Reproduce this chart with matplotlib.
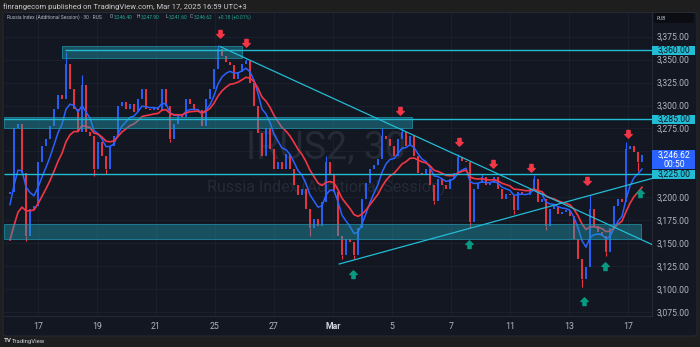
import numpy as np
import matplotlib
matplotlib.use("Agg")
import matplotlib.pyplot as plt
from matplotlib.patches import Rectangle, FancyBboxPatch
from matplotlib.path import Path
import matplotlib.transforms as mtransforms

# ---------------- data ----------------
first_open = 3204.0
closes = [
    3206, 3275, 3280, 3227, 3158, 3187, 3191, 3238, 3256, 3264,
    3278, 3296, 3311, 3307, 3345, 3318, 3296, 3271, 3322, 3271,
    3267, 3231, 3260, 3245, 3231, 3256, 3267, 3300, 3304, 3296,
    3302, 3293, 3307, 3318, 3296, 3295, 3298, 3295, 3318, 3300,
    3264, 3280, 3290, 3288, 3307, 3302, 3296, 3295, 3278, 3307,
    3318, 3340, 3362, 3354, 3347, 3344, 3329, 3336, 3345, 3349,
    3325, 3300, 3270, 3245, 3275, 3253, 3231, 3238, 3231, 3247,
    3231, 3213, 3202, 3209, 3187, 3166, 3176, 3169, 3195, 3238,
    3224, 3206, 3158, 3137, 3155, 3151, 3137, 3166, 3198, 3216,
    3231, 3235, 3242, 3267, 3264, 3256, 3245, 3264, 3271, 3256,
    3267, 3245, 3227, 3224, 3231, 3213, 3196, 3220, 3213, 3209,
    3220, 3227, 3244, 3240, 3238, 3173, 3209, 3216, 3222, 3213,
    3216, 3222, 3209, 3198, 3204, 3202, 3186, 3206, 3204, 3202,
    3209, 3220, 3195, 3198, 3169, 3187, 3191, 3182, 3184, 3186,
    3180, 3155, 3133, 3111, 3124, 3187, 3169, 3162, 3158, 3140,
    3166, 3191, 3198, 3195, 3253, 3256, 3249, 3238, 3246.62,
]
# wick extremes (bar number, price)
wick_bars = [4, 14, 18, 21, 24, 40, 52, 59, 75, 79, 83, 86, 93, 98, 106,
             112, 115, 118, 126, 131, 134, 143, 145, 149, 154, 157]
wick_tips = [3152, 3358, 3333, 3223, 3225, 3260, 3366, 3351, 3158, 3245,
             3133, 3133, 3276, 3276, 3193, 3247, 3166, 3225, 3182, 3224,
             3164, 3102, 3202, 3136, 3260, 3229]
ema_fast_start = 3187.4
ema_slow_start = 3145.6

tick_days = [0, 2, 4, 6, 8, 10, 12, 14, 16, 18, 20]
tick_labels = ["17", "19", "21", "25", "27", "Mar", "5", "7", "11", "13", "17"]
price_ticks = list(range(3075, 3376, 25))
hidden_price_labels = [3225, 3250]

level_lines = [3360, 3285, 3225]
band_3360 = (3352.3, 3365.0)
band_3285 = (3275.9, 3287.2)
band_3160 = (3154.5, 3171.0)
trend_down = ([6.17, 20.81], [3364.3, 3148.6])
trend_up = ([10.21, 20.81], [3127.3, 3220.5])

sell_days = [6.17, 7.05, 12.27, 14.27, 15.42, 16.71, 18.61, 20.0]
sell_prices = [3378, 3368, 3294, 3260, 3236, 3232, 3218, 3269]
buy_days = [10.68, 14.61, 18.51, 19.22, 20.41]
buy_prices = [3116, 3149, 3087, 3125, 3205]

last_price = 3246.62

# ---------------- style ----------------
BG_OUT = "#1e1e1e"
BG = "#131722"
GRID = "#1c2130"
TXT = "#b2b5be"
CYAN = "#22bcd4"
BLUE = "#2962ff"
RED = "#f23645"
GREEN = "#089981"
FONT = ["Roboto", "DejaVu Sans"]
plt.rcParams["font.family"] = FONT

W, H = 700, 347
fig = plt.figure(figsize=(W / 100, H / 100), dpi=100)
fig.patch.set_facecolor(BG_OUT)
panel = FancyBboxPatch((3 / W, (H - 336) / H), 694 / W, 323.5 / H,
                       boxstyle="round,pad=0,rounding_size=0.006",
                       transform=fig.transFigure, facecolor=BG,
                       edgecolor="#2a2e39", lw=0.6, zorder=-5)
fig.patches.append(panel)

ax = fig.add_axes([4 / W, (H - 316) / H, 648 / W, 303 / H])
ax.set_facecolor(BG)
x_left, x_right = -1.1525, 20.814
ax.set_xlim(x_left, x_right)
ax.set_ylim(3070.65, 3400.8)

# bar positions in trading-day units
first_bar_day = -0.949
bar_step = 4 / 29.5
n = len(closes)
bx = first_bar_day + bar_step * np.arange(n)
c = np.array(closes, dtype=float)
o = np.concatenate([[first_open], c[:-1]])
lo = np.minimum(o, c)
hi = np.maximum(o, c)
hi = np.where(hi - lo < 1.2, lo + 1.2, hi)
cols = [BLUE if cc >= oo else RED for oo, cc in zip(o, c)]

# watermark
ax.text(9.76, 3242.8, "IRUS2, 30", ha="center", va="baseline", fontsize=27,
        color="#252a37", zorder=0.8)
ax.text(9.76, 3206.0, "Russia Index (Additional Session)", ha="center",
        va="baseline", fontsize=11.5, color="#252a37", zorder=0.8)

# candles
ax.vlines(bx, lo, hi, colors=cols, lw=1.35, zorder=2, capstyle="butt")
for b, t in zip(wick_bars, wick_tips):
    base = hi[b] if t > hi[b] else lo[b]
    ax.vlines(bx[b], min(base, t), max(base, t), colors=cols[b], lw=0.8, zorder=2)

# moving averages
def ema(values, start, alpha):
    out = []
    s = start
    for v in values:
        s = s + alpha * (v - s)
        out.append(s)
    return np.array(out)

ax.plot(bx, ema(c, ema_fast_start, 0.25), color=BLUE, lw=1.1, zorder=3)
ax.plot(bx, ema(c, ema_slow_start, 0.13), color=RED, lw=1.2, zorder=3)

# bands and levels
band_kw = dict(facecolor=(0.13, 0.63, 0.72, 0.42), edgecolor=(0.13, 0.6, 0.7, 0.8),
               lw=0.6, zorder=3.5)
ax.add_patch(Rectangle((0.83, band_3360[0]), 6.93 - 0.83, band_3360[1] - band_3360[0], **band_kw))
ax.add_patch(Rectangle((x_left, band_3285[0]), 12.68 - x_left, band_3285[1] - band_3285[0], **band_kw))
ax.add_patch(Rectangle((x_left, band_3160[0]), 20.44 - x_left, band_3160[1] - band_3160[0], **band_kw))
ax.hlines(level_lines[0], 0.91, x_right, color=CYAN, lw=1.0, zorder=4)
ax.hlines(level_lines[1:], x_left, x_right, color=CYAN, lw=1.0, zorder=4)
ax.plot(*trend_down, color=CYAN, lw=0.9, zorder=4)
ax.plot(*trend_up, color=CYAN, lw=0.9, zorder=4)

# arrows
down_arrow = Path([(-0.22, 0.55), (0.22, 0.55), (0.22, 0.0), (0.5, 0.0), (0.0, -0.5),
                   (-0.5, 0.0), (-0.22, 0.0), (-0.22, 0.55)],
                  [Path.MOVETO] + [Path.LINETO] * 6 + [Path.CLOSEPOLY])
up_arrow = Path([(x, -y) for x, y in down_arrow.vertices], down_arrow.codes)
ax.plot(sell_days, sell_prices, ls="none", marker=down_arrow, ms=5.8,
        color=RED, mec=RED, zorder=5)
ax.plot(buy_days, buy_prices, ls="none", marker=up_arrow, ms=5.8,
        color=GREEN, mec=GREEN, zorder=5)

# axes / ticks / grid
for s in ["top", "left"]:
    ax.spines[s].set_visible(False)
for s in ["right", "bottom"]:
    ax.spines[s].set_color("#2a2e39")
    ax.spines[s].set_linewidth(0.6)
ax.set_xticks(tick_days, tick_labels)
ax.yaxis.tick_right()
ax.set_yticks(price_ticks, ["" if p in hidden_price_labels else f"{p:,.2f}" for p in price_ticks])
ax.tick_params(axis="x", length=0, pad=4.3, labelsize=6.3, colors=TXT)
ax.tick_params(axis="y", length=0, pad=3.6, labelsize=6.2, colors=TXT)
for lab in ax.get_xticklabels():
    if lab.get_text() == "Mar":
        lab.set_fontweight("bold")
        lab.set_color("#d1d4dc")
ax.grid(True, color=GRID, lw=0.6)
ax.set_axisbelow(True)

# price labels on the axis
bt = mtransforms.blended_transform_factory(ax.transAxes, ax.transData)
box_w = 43 / 648
box_cx = 1 + 22.5 / 648
for lv in level_lines:
    ax.add_patch(Rectangle((1.0, lv - 4.8), box_w, 9.6, transform=bt,
                           facecolor=CYAN, edgecolor="none", clip_on=False, zorder=6))
    ax.text(box_cx, lv, f"{lv:,.2f}", transform=bt, ha="center", va="center",
            fontsize=6.2, color=BG, clip_on=False, zorder=7)
ax.add_patch(Rectangle((1.0, 3230.5), box_w, 21.0, transform=bt,
                       facecolor=BLUE, edgecolor="none", clip_on=False, zorder=6))
ax.text(box_cx, 3245.9, f"{last_price:,.2f}", transform=bt, ha="center", va="center",
        fontsize=6.2, color="white", clip_on=False, zorder=7)
ax.text(box_cx, 3235.7, "00:50", transform=bt, ha="center", va="center",
        fontsize=6.2, color="white", clip_on=False, zorder=7)

# RUB box
fig.patches.append(FancyBboxPatch((654 / W, 1 - 23 / H), 40 / W, 10 / H,
                                  boxstyle="round,pad=0,rounding_size=0.003",
                                  transform=fig.transFigure, facecolor="#0c0d12",
                                  edgecolor="none", zorder=5))
fig.text(657 / W, 1 - 18 / H, "RUB", fontsize=3.6, color=TXT, va="center", zorder=6)

# header and legend
fig.text(3 / W, 1 - 6.5 / H, "finrangecom published on TradingView.com, Mar 17, 2025 16:59 UTC+3",
         fontsize=5.5, color="#c9cbd1", va="center")
ly = 1 - 16.7 / H
lf = 3.55
fig.text(7.3 / W, ly, "Russia Index (Additional Session) · 30 · RUS", fontsize=lf,
         color="#b2b5be", va="center")
for lx, letter, vx, val in [(110, "O", 113.5, "3,246.40"), (136.7, "H", 140.7, "3,247.90"),
                            (165.7, "L", 168.7, "3,241.60"), (190, "C", 194, "3,246.62")]:
    fig.text(lx / W, ly, letter, fontsize=lf, color="#b2b5be", va="center")
    fig.text(vx / W, ly, val, fontsize=lf, color="#22ab94", va="center")
fig.text(218 / W, ly, "+0.18 (+0.01%)", fontsize=lf, color="#22ab94", va="center")

# footer logo
fig.text(4 / W, 1 - 341 / H, "TV", fontsize=4.5, fontweight="bold", color="#d1d4dc", va="center")
fig.text(12 / W, 1 - 341 / H, "TradingView", fontsize=4.3, color="#d1d4dc", va="center")

fig.savefig("out.png", dpi=100, facecolor=fig.get_facecolor())
